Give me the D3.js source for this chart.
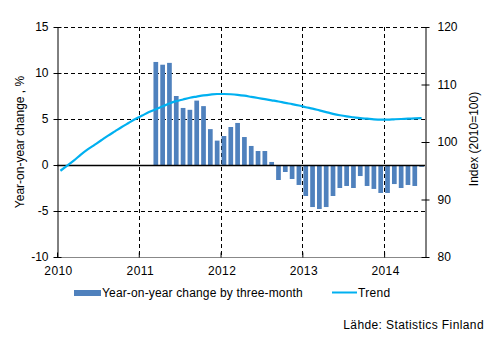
<!DOCTYPE html>
<html>
<head>
<meta charset="utf-8">
<script src="https://cdn.jsdelivr.net/npm/d3@7"></script>
<style>
  html, body { margin: 0; padding: 0; background: #fff; }
  svg { display: block; font-family: "Liberation Sans", Arial, sans-serif; }
</style>
</head>
<body>
<svg id="chart" width="496" height="341"></svg>
<script>
// ---- Data ----
const months = d3.range(54).map(i => {
  const y = 2010 + Math.floor(i / 12), m = i % 12 + 1;
  return y + "-" + String(m).padStart(2, "0");
});
// Year-on-year change by three-month (%), starting 2011-03
const changeStart = "2011-03";
const changeValues = [
  11.2, 10.9, 11.1, 7.5, 6.2, 6.0, 7.0, 6.4, 3.9, 2.65,
  3.15, 4.13, 4.57, 3.04, 2.07, 1.52, 1.52, 0.33, -1.63, -0.76,
  -1.52, -2.17, -3.37, -4.57, -4.78, -4.57, -3.37, -2.5, -2.28, -2.5,
  -1.2, -2.28, -2.6, -3.04, -3.04, -2.07, -2.5, -2.17, -2.28, -0.2
];
// Trend, index 2010=100, 2010-01 .. 2014-06
const trendValues = [
  95.0, 95.9, 96.8, 97.8, 98.7, 99.5, 100.3, 101.1, 101.85, 102.6, 103.3, 104.0,
  104.6, 105.2, 105.7, 106.2, 106.7, 107.1, 107.4, 107.7, 107.9, 108.1, 108.25, 108.35,
  108.35, 108.3, 108.2, 108.05, 107.85, 107.65, 107.45, 107.25, 107.05, 106.8, 106.6, 106.35,
  106.05, 105.8, 105.5, 105.2, 104.9, 104.65, 104.45, 104.3, 104.15, 104.05, 103.95, 103.9,
  103.9, 103.95, 104.0, 104.05, 104.1, 104.15
];
const leftTicks = [-10, -5, 0, 5, 10, 15];
const rightTicks = [80, 90, 100, 110, 120];
const yearTicks = [2010, 2011, 2012, 2013, 2014];
const seriesNames = ["Year-on-year change by three-month", "Trend"];

// ---- Layout ----
const L = 57, R = 425, T = 27, B = 257;
const svg = d3.select("#chart");
const plain = d => String(d);

const xBand = d3.scaleBand().domain(months).range([L, R]).paddingInner(0.31).paddingOuter(0.155);
const xTime = d3.scaleLinear().domain([2010, 2010 + 54 / 12]).range([L, R]);
const yL = d3.scaleLinear().domain([-10, 15]).range([B, T]);
const yR = d3.scaleLinear().domain([80, 120]).range([B, T]);
const monthCenter = m => xBand(m) + xBand.bandwidth() / 2;

// Gridlines (dashed)
const grid = svg.append("g").attr("stroke", "#000").attr("stroke-width", 1).attr("stroke-dasharray", "4,3");
grid.selectAll("line.h").data(leftTicks.filter(v => v !== 0 && v !== -10)).join("line")
  .attr("x1", L).attr("x2", R)
  .attr("y1", d => Math.round(yL(d)) + 0.5).attr("y2", d => Math.round(yL(d)) + 0.5);
grid.selectAll("line.v").data(yearTicks.filter(v => v !== 2010)).join("line")
  .attr("x1", d => Math.round(xTime(d)) + 0.5).attr("x2", d => Math.round(xTime(d)) + 0.5)
  .attr("y1", T).attr("y2", B);

// Bars
const i0 = months.indexOf(changeStart);
const barData = changeValues.map((v, k) => ({ m: months[i0 + k], v }));
svg.append("g").selectAll("rect").data(barData).join("rect")
  .attr("x", d => xBand(d.m))
  .attr("width", xBand.bandwidth())
  .attr("y", d => yL(Math.max(0, d.v)))
  .attr("height", d => Math.abs(yL(d.v) - yL(0)))
  .attr("fill", "#4F81BD");

// Zero line
svg.append("line").attr("x1", L).attr("x2", R)
  .attr("y1", Math.round(yL(0)) + 0.5).attr("y2", Math.round(yL(0)) + 0.5)
  .attr("stroke", "#000").attr("stroke-width", 1.5);

// Trend line
const line = d3.line().x((d, i) => monthCenter(months[i])).y(d => yR(d)).curve(d3.curveMonotoneX);
svg.append("path").datum(trendValues).attr("d", line)
  .attr("fill", "none").attr("stroke", "#00B0F0").attr("stroke-width", 2.2);

// Bottom axis line (grey) with year ticks
svg.append("line").attr("x1", L).attr("x2", R).attr("y1", B + 0.5).attr("y2", B + 0.5)
  .attr("stroke", "#888");
const xAxis = d3.axisBottom(xTime).tickValues(yearTicks).tickFormat(plain).tickSizeInner(-5).tickSizeOuter(0).tickPadding(9);
const gx = svg.append("g").attr("transform", `translate(0,${B + 0.5})`).call(xAxis);
gx.select(".domain").remove();
gx.selectAll(".tick line").attr("stroke", "#000");
gx.selectAll("text").attr("font-size", 12).attr("fill", "#000").attr("dx", 1).attr("letter-spacing", 0.4);

// Left axis
const yAxisL = d3.axisLeft(yL).tickValues(leftTicks).tickFormat(plain).tickSizeInner(4).tickSizeOuter(0).tickPadding(5);
const gl = svg.append("g").attr("transform", `translate(${L + 0.5},0)`).call(yAxisL);
gl.select(".domain").attr("stroke", "#000");
gl.selectAll(".tick line").attr("x1", 4).attr("x2", -4).attr("stroke", "#000");
gl.selectAll("text").attr("font-size", 12).attr("fill", "#000");

// Right axis
const yAxisR = d3.axisRight(yR).tickValues(rightTicks).tickFormat(plain).tickSizeInner(4).tickSizeOuter(0).tickPadding(8);
const gr = svg.append("g").attr("transform", `translate(${R + 0.5},0)`).call(yAxisR);
gr.select(".domain").attr("stroke", "#000");
gr.selectAll(".tick line").attr("x1", -4).attr("x2", 4).attr("stroke", "#000");
gr.selectAll("text").attr("font-size", 12).attr("fill", "#000");

// Axis titles
svg.append("text").attr("transform", `translate(24,${(T + B) / 2}) rotate(-90)`)
  .attr("text-anchor", "middle").attr("font-size", 12).text("Year-on-year change , %");
svg.append("text").attr("transform", `translate(478,${(T + B) / 2 - 3}) rotate(-90)`)
  .attr("text-anchor", "middle").attr("font-size", 12).text("Index (2010=100)");

// Legend
const lg = svg.append("g");
lg.append("rect").attr("x", 74).attr("y", 290).attr("width", 27).attr("height", 6).attr("fill", "#4F81BD");
lg.append("text").attr("x", 102).attr("y", 297).attr("font-size", 12).attr("letter-spacing", 0.15).text(seriesNames[0]);
lg.append("line").attr("x1", 332).attr("x2", 357).attr("y1", 292.5).attr("y2", 292.5)
  .attr("stroke", "#00B0F0").attr("stroke-width", 2);
lg.append("text").attr("x", 358).attr("y", 297).attr("font-size", 12).attr("letter-spacing", 0.3).text(seriesNames[1]);

// Source
svg.append("text").attr("x", 484).attr("y", 329).attr("text-anchor", "end").attr("font-size", 12)
  .attr("letter-spacing", 0.4).text("Lähde: Statistics Finland");
</script>
</body>
</html>
